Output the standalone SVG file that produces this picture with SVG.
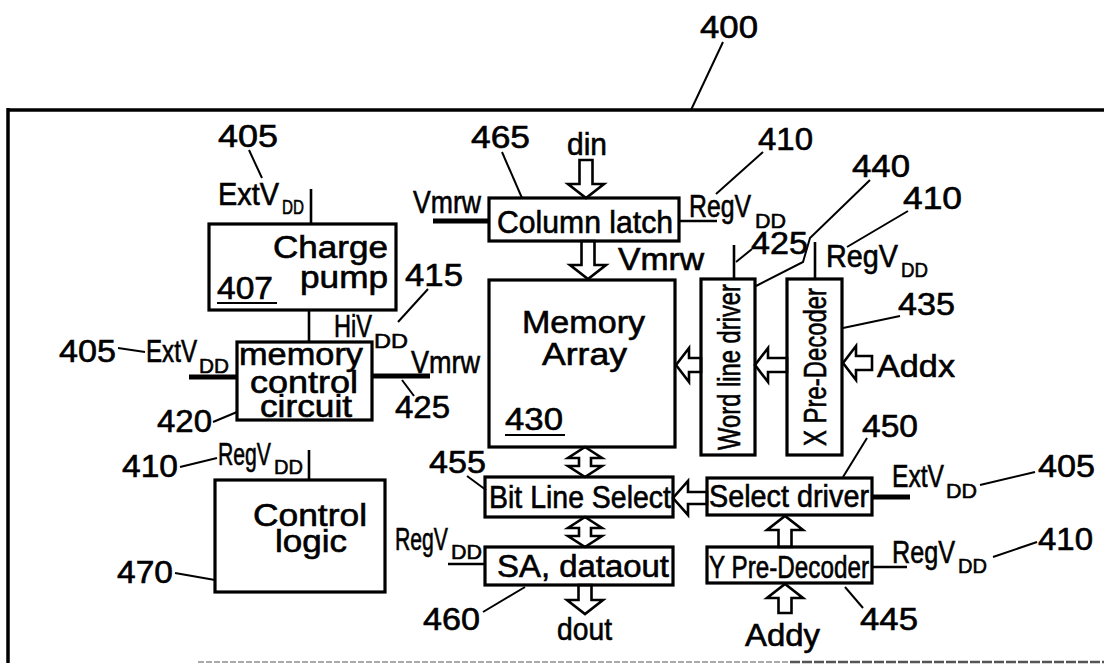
<svg xmlns="http://www.w3.org/2000/svg" width="1104" height="664" viewBox="0 0 1104 664">
<style>
text{font-family:"Liberation Sans",Arial,Helvetica,sans-serif;fill:#000;stroke:#000;stroke-width:0.6}
.n{font-size:31px}
.s{font-size:21px}
.box{fill:none;stroke:#000;stroke-width:3.2}
.w{stroke:#000;stroke-width:2.6;fill:none}
.tw{stroke:#000;stroke-width:5;fill:none}
.ld{stroke:#000;stroke-width:2;fill:none}
.arr{fill:#fff;stroke:#000;stroke-width:2.6;stroke-linejoin:miter}
.ul{stroke:#000;stroke-width:2.2}
</style>
<rect width="1104" height="664" fill="#fff"/>
<g id="frame">
<line x1="8" y1="110" x2="1104" y2="110" stroke="#000" stroke-width="3.5"/>
<line x1="8" y1="108" x2="8" y2="663" stroke="#000" stroke-width="3.5"/>
<line x1="198" y1="662" x2="790" y2="662" stroke="#aaa" stroke-width="2" stroke-dasharray="6 2"/>
<line x1="790" y1="662" x2="1104" y2="662" stroke="#555" stroke-width="2.5" stroke-dasharray="10 2"/>
<text class="n" x="700" y="38" textLength="58" lengthAdjust="spacingAndGlyphs">400</text>
</g>
<g id="connectors">
<line class="w" x1="311" y1="189" x2="311" y2="224"/>
<line class="w" x1="309" y1="310" x2="309" y2="342" stroke-width="3.4"/>
<line class="tw" x1="189" y1="377" x2="237" y2="377"/>
<line class="tw" x1="372" y1="376" x2="430" y2="376"/>
<line class="tw" x1="433" y1="221" x2="489" y2="221"/>
<line class="w" x1="679" y1="221" x2="717" y2="221"/>
<line class="w" x1="734" y1="245" x2="734" y2="279" stroke-width="3"/>
<line class="w" x1="815" y1="242" x2="815" y2="279" stroke-width="3"/>
<line class="w" x1="309" y1="450" x2="309" y2="480"/>
<line class="w" x1="448" y1="564" x2="485" y2="564"/>
<line class="tw" x1="872" y1="497" x2="910" y2="497"/>
<line class="w" x1="872" y1="567" x2="907" y2="567"/>
<path class="arr" d="M579.5,160 L592.5,160 L592.5,184 L604,184 L586,198 L568,184 L579.5,184 Z"/>
<path class="arr" d="M581.5,241 L594.5,241 L594.5,265 L606,265 L588,279 L570,265 L581.5,265 Z"/>
<path class="arr" d="M578.5,585 L591.5,585 L591.5,600 L603,600 L585,614 L567,600 L578.5,600 Z"/>
<path class="arr" d="M778.5,547 L791.5,547 L791.5,530 L803,530 L785,516 L767,530 L778.5,530 Z"/>
<path class="arr" d="M778.5,613 L791.5,613 L791.5,598 L803,598 L785,584 L767,598 L778.5,598 Z"/>
<path class="arr" d="M585,447 L602,458 L591,458 L591,466 L602,466 L585,477 L568,466 L579,466 L579,458 L568,458 Z"/>
<path class="arr" d="M585,517 L602,528 L591,528 L591,536 L602,536 L585,547 L568,536 L579,536 L579,528 L568,528 Z"/>
<path class="arr" d="M701,358 L689,358 L689,348 L676,365 L689,382 L689,372 L701,372 Z"/>
<path class="arr" d="M787,358 L768,358 L768,348 L755,365 L768,382 L768,372 L787,372 Z"/>
<path class="arr" d="M872,356 L856,356 L856,346 L843,363 L856,380 L856,370 L872,370 Z"/>
<path class="arr" d="M707,492 L688,492 L688,481 L673,498 L688,515 L688,504 L707,504 Z"/>
<line class="ld" x1="723" y1="42" x2="691" y2="110"/>
<line class="ld" x1="249" y1="150" x2="262" y2="178"/>
<line class="ld" x1="502" y1="152" x2="522" y2="198"/>
<line class="ld" x1="763" y1="152" x2="716" y2="194"/>
<polyline class="ld" points="870,180 810,238 803,262 756,286"/>
<line class="ld" x1="908" y1="211" x2="847" y2="247"/>
<line class="ld" x1="752" y1="249" x2="736" y2="262"/>
<line class="ld" x1="900" y1="316" x2="843" y2="328"/>
<line class="ld" x1="428" y1="289" x2="398" y2="322"/>
<line class="ld" x1="118" y1="348" x2="145" y2="352"/>
<line class="ld" x1="402" y1="380" x2="414" y2="396"/>
<line class="ld" x1="213" y1="422" x2="237" y2="412"/>
<line class="ld" x1="180" y1="467" x2="217" y2="458"/>
<line class="ld" x1="175" y1="573" x2="215" y2="580"/>
<line class="ld" x1="467" y1="476" x2="486" y2="490"/>
<line class="ld" x1="867" y1="438" x2="843" y2="477"/>
<line class="ld" x1="980" y1="485" x2="1035" y2="472"/>
<line class="ld" x1="993" y1="557" x2="1037" y2="542"/>
<line class="ld" x1="483" y1="612" x2="525" y2="587"/>
<line class="ld" x1="845" y1="587" x2="863" y2="608"/>
</g>
<g id="labels">
<text class="n" x="218" y="147" textLength="60" lengthAdjust="spacingAndGlyphs">405</text>
<text class="n" x="218" y="205" textLength="61" lengthAdjust="spacingAndGlyphs">ExtV</text>
<text class="s" x="282" y="214" textLength="22" lengthAdjust="spacingAndGlyphs">DD</text>
<text class="n" x="471" y="148" textLength="59" lengthAdjust="spacingAndGlyphs">465</text>
<text class="n" x="567" y="155" textLength="40" lengthAdjust="spacingAndGlyphs">din</text>
<text class="n" x="758" y="150" textLength="55" lengthAdjust="spacingAndGlyphs">410</text>
<text class="n" x="852" y="177" textLength="58" lengthAdjust="spacingAndGlyphs">440</text>
<text class="n" x="903" y="209" textLength="59" lengthAdjust="spacingAndGlyphs">410</text>
<text class="n" x="413" y="213" textLength="68" lengthAdjust="spacingAndGlyphs">Vmrw</text>
<text class="n" x="689" y="217" textLength="62" lengthAdjust="spacingAndGlyphs">RegV</text>
<text class="s" x="755" y="228" textLength="31" lengthAdjust="spacingAndGlyphs">DD</text>
<text class="n" x="751" y="254" textLength="57" lengthAdjust="spacingAndGlyphs">425</text>
<text class="n" x="618" y="270" textLength="86" lengthAdjust="spacingAndGlyphs">Vmrw</text>
<text class="n" x="826" y="267" textLength="72" lengthAdjust="spacingAndGlyphs">RegV</text>
<text class="s" x="901" y="277" textLength="27" lengthAdjust="spacingAndGlyphs">DD</text>
<text class="n" x="405" y="286" textLength="58" lengthAdjust="spacingAndGlyphs">415</text>
<text class="n" x="334" y="337" textLength="38" lengthAdjust="spacingAndGlyphs">HiV</text>
<text class="s" x="374" y="348" textLength="34" lengthAdjust="spacingAndGlyphs">DD</text>
<text class="n" x="898" y="315" textLength="57" lengthAdjust="spacingAndGlyphs">435</text>
<text class="n" x="59" y="362" textLength="57" lengthAdjust="spacingAndGlyphs">405</text>
<text class="n" x="146" y="362" textLength="51" lengthAdjust="spacingAndGlyphs">ExtV</text>
<text class="s" x="199" y="373" textLength="30" lengthAdjust="spacingAndGlyphs">DD</text>
<text class="n" x="411" y="373" textLength="69" lengthAdjust="spacingAndGlyphs">Vmrw</text>
<text class="n" x="395" y="418" textLength="55" lengthAdjust="spacingAndGlyphs">425</text>
<text class="n" x="157" y="432" textLength="55" lengthAdjust="spacingAndGlyphs">420</text>
<text class="n" x="877" y="377" textLength="78" lengthAdjust="spacingAndGlyphs">Addx</text>
<text class="n" x="122" y="477" textLength="56" lengthAdjust="spacingAndGlyphs">410</text>
<text class="n" x="218" y="465" textLength="53" lengthAdjust="spacingAndGlyphs">RegV</text>
<text class="s" x="274" y="474" textLength="29" lengthAdjust="spacingAndGlyphs">DD</text>
<text class="n" x="117" y="583" textLength="56" lengthAdjust="spacingAndGlyphs">470</text>
<text class="n" x="429" y="473" textLength="57" lengthAdjust="spacingAndGlyphs">455</text>
<text class="n" x="862" y="437" textLength="56" lengthAdjust="spacingAndGlyphs">450</text>
<text class="n" x="892" y="487" textLength="52" lengthAdjust="spacingAndGlyphs">ExtV</text>
<text class="s" x="946" y="498" textLength="31" lengthAdjust="spacingAndGlyphs">DD</text>
<text class="n" x="1038" y="477" textLength="57" lengthAdjust="spacingAndGlyphs">405</text>
<text class="n" x="395" y="550" textLength="53" lengthAdjust="spacingAndGlyphs">RegV</text>
<text class="s" x="451" y="559" textLength="31" lengthAdjust="spacingAndGlyphs">DD</text>
<text class="n" x="892" y="563" textLength="63" lengthAdjust="spacingAndGlyphs">RegV</text>
<text class="s" x="958" y="573" textLength="29" lengthAdjust="spacingAndGlyphs">DD</text>
<text class="n" x="1038" y="550" textLength="55" lengthAdjust="spacingAndGlyphs">410</text>
<text class="n" x="423" y="630" textLength="57" lengthAdjust="spacingAndGlyphs">460</text>
<text class="n" x="557" y="640" textLength="55" lengthAdjust="spacingAndGlyphs">dout</text>
<text class="n" x="860" y="630" textLength="58" lengthAdjust="spacingAndGlyphs">445</text>
<text class="n" x="745" y="646" textLength="75" lengthAdjust="spacingAndGlyphs">Addy</text>
</g>
<g id="charge-pump">
<rect class="box" x="209" y="224" width="187" height="86"/>
<text class="n" x="273" y="258" textLength="115" lengthAdjust="spacingAndGlyphs">Charge</text>
<text class="n" x="300" y="288" textLength="88" lengthAdjust="spacingAndGlyphs">pump</text>
<text class="n" x="217" y="299" textLength="56" lengthAdjust="spacingAndGlyphs">407</text>
<line class="ul" x1="217" y1="303" x2="277" y2="303"/>
</g>
<g id="memory-control">
<rect class="box" x="237" y="342" width="135" height="78"/>
<text class="n" x="239" y="365" textLength="124" lengthAdjust="spacingAndGlyphs">memory</text>
<text class="n" x="250" y="393" textLength="108" lengthAdjust="spacingAndGlyphs">control</text>
<text class="n" x="260" y="417" textLength="92" lengthAdjust="spacingAndGlyphs">circuit</text>
</g>
<g id="control-logic">
<rect class="box" x="215" y="480" width="170" height="112"/>
<text class="n" x="253" y="526" textLength="114" lengthAdjust="spacingAndGlyphs">Control</text>
<text class="n" x="275" y="552" textLength="72" lengthAdjust="spacingAndGlyphs">logic</text>
</g>
<g id="column-latch">
<rect class="box" x="489" y="198" width="190" height="43"/>
<text class="n" x="497" y="233" textLength="176" lengthAdjust="spacingAndGlyphs">Column latch</text>
</g>
<g id="memory-array">
<rect class="box" x="489" y="280" width="186" height="167"/>
<text class="n" x="522" y="333" textLength="123" lengthAdjust="spacingAndGlyphs">Memory</text>
<text class="n" x="542" y="365" textLength="85" lengthAdjust="spacingAndGlyphs">Array</text>
<text class="n" x="505" y="430" textLength="58" lengthAdjust="spacingAndGlyphs">430</text>
<line class="ul" x1="505" y1="435" x2="565" y2="435"/>
</g>
<g id="word-line-driver">
<rect class="box" x="701" y="279" width="54" height="176"/>
<text class="n" transform="translate(740,367) rotate(-90)" text-anchor="middle" textLength="166" lengthAdjust="spacingAndGlyphs">Word line driver</text>
</g>
<g id="x-pre-decoder">
<rect class="box" x="787" y="279" width="55" height="176"/>
<text class="n" transform="translate(826,367) rotate(-90)" text-anchor="middle" textLength="158" lengthAdjust="spacingAndGlyphs">X Pre-Decoder</text>
</g>
<g id="bit-line-select">
<rect class="box" x="485" y="477" width="188" height="40"/>
<text class="n" x="489" y="508" textLength="182" lengthAdjust="spacingAndGlyphs">Bit Line Select</text>
</g>
<g id="sa-dataout">
<rect class="box" x="485" y="547" width="188" height="38"/>
<text class="n" x="497" y="577" textLength="172" lengthAdjust="spacingAndGlyphs">SA, dataout</text>
</g>
<g id="select-driver">
<rect class="box" x="707" y="478" width="165" height="37"/>
<text class="n" x="709" y="507" textLength="160" lengthAdjust="spacingAndGlyphs">Select driver</text>
</g>
<g id="y-pre-decoder">
<rect class="box" x="707" y="547" width="165" height="36"/>
<text class="n" x="709" y="578" textLength="160" lengthAdjust="spacingAndGlyphs">Y Pre-Decoder</text>
</g>
</svg>
